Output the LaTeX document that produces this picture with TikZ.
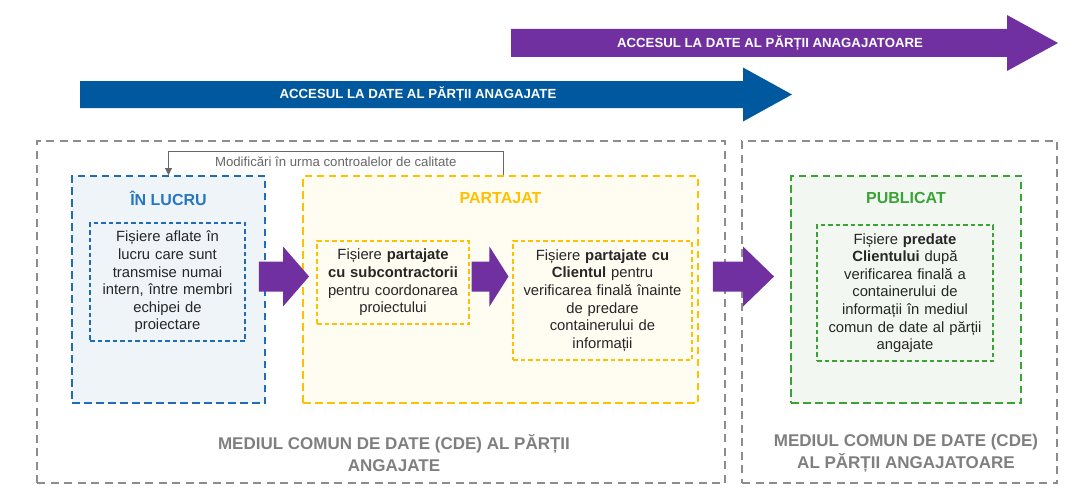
\documentclass[tikz,border=0pt]{standalone}
\usepackage{fontspec}
\setmainfont{Liberation Sans}
\usepackage{tikz}
\usetikzlibrary{positioning,calc,arrows.meta}

\definecolor{ownerblue}{HTML}{00599E}
\definecolor{clientpurple}{HTML}{7030A0}
\definecolor{cdegray}{HTML}{8C8C8C}
\definecolor{labelgray}{HTML}{7F7F7F}
\definecolor{notegray}{HTML}{666666}
\definecolor{wipblue}{HTML}{1F6DB5}
\definecolor{wiptext}{HTML}{2577C2}
\definecolor{wipfill}{HTML}{EFF4F9}
\definecolor{sharedgold}{HTML}{FFC000}
\definecolor{sharedfill}{HTML}{FFFCF2}
\definecolor{pubgreen}{HTML}{3AA335}
\definecolor{pubfill}{HTML}{F2F8F1}
\definecolor{ink}{HTML}{262626}

\newcommand{\bodysize}{\fontsize{14.8}{17.6}\selectfont}
\newcommand{\titlesize}{\fontsize{16}{19}\selectfont\bfseries}
\newcommand{\bandsize}{\fontsize{13.2}{16}\selectfont\bfseries}
\newcommand{\notesize}{\fontsize{13.2}{16}\selectfont}
\newcommand{\cdesize}{\fontsize{17}{21.5}\selectfont\bfseries}

\tikzset{
  fat body/.store in=\fatbody, fat body=15pt,
  fat head/.store in=\fathead, fat head=30pt,
  fat len/.store in=\fatlen, fat len=26pt,
  fatarrow/.style={to path={let \p1=(\tikztostart), \p2=(\tikztotarget) in
      (\x1,\y1+\fatbody) -- (\x2-\fatlen,\y1+\fatbody) -- (\x2-\fatlen,\y1+\fathead)
      -- (\x2,\y1) -- (\x2-\fatlen,\y1-\fathead) -- (\x2-\fatlen,\y1-\fatbody)
      -- (\x1,\y1-\fatbody) -- cycle}},
  cde/.style={draw=cdegray, line width=1.7pt, dash pattern=on 8pt off 5.5pt},
  stage/.style={line width=1.9pt, dash pattern=on 7.5pt off 4.5pt},
  filebox/.style={line width=1.1pt, dash pattern=on 4.5pt off 3pt, inner sep=0pt,
      align=center, font=\bodysize, text=ink},
  stagetitle/.style={font=\titlesize},
  bandlabel/.style={font=\bandsize, text=white},
  cdelabel/.style={font=\cdesize, text=labelgray, align=center},
  feedback/.style={draw=notegray, line width=0.9pt, -{Triangle[width=7pt,length=7pt]}},
}

\begin{document}
\begin{tikzpicture}[x=1pt,y=-1pt]
\useasboundingbox (0,0) rectangle (1076,487);

% access bands
\coordinate (ownertail) at (80,94.5);
\coordinate (ownertip) at (792,94.5);
\coordinate (clienttail) at (511,43);
\coordinate (clienttip) at (1058,43);
\fill[clientpurple, fatarrow, fat body=14pt, fat head=28pt, fat len=51pt] (clienttail) to (clienttip);
\node[bandlabel] (clientband) at (770,43) {ACCESUL LA DATE AL PĂRȚII ANAGAJATOARE};
\fill[ownerblue, fatarrow, fat body=13.5pt, fat head=27pt, fat len=49pt] (ownertail) to (ownertip);
\node[bandlabel] (ownerband) at (418,94.5) {ACCESUL LA DATE AL PĂRȚII ANAGAJATE};

% common data environments
\node[cde, minimum width=688, minimum height=342] (ownercde) at (381,312) {};
\node[cde, minimum width=315, minimum height=342] (clientcde) at (899.5,312) {};

% stages
\node[stage, draw=wipblue, fill=wipfill, minimum width=193, minimum height=227] (wip) at (168.5,289.5) {};
\node[stage, draw=sharedgold, fill=sharedfill, minimum width=395, minimum height=227] (shared) at (500.5,289.5) {};
\node[stage, draw=pubgreen, fill=pubfill, minimum width=230, minimum height=227] (published) at (906,289.5) {};

\node[stagetitle, text=wiptext] (wiptitle) at ([yshift=-23]wip.north) {ÎN LUCRU};
\node[stagetitle, text=sharedgold] (sharedtitle) at ([yshift=-23]shared.north) {PARTAJAT};
\node[stagetitle, text=pubgreen] (pubtitle) at ([yshift=-23]published.north) {PUBLICAT};

% file boxes
\node[filebox, draw=wipblue, minimum width=155, minimum height=118, text width=155] (wipfiles) at (167.5,282)
  {Fișiere aflate în\\lucru care sunt\\transmise numai\\intern, între membri\\echipei de\\proiectare};
\node[filebox, draw=sharedgold, minimum width=152, minimum height=83, text width=152] (subfiles) at (393,282.5)
  {Fișiere \textbf{partajate}\\\textbf{cu subcontractorii}\\pentru coordonarea\\proiectului};
\node[filebox, draw=sharedgold, minimum width=179, minimum height=119, text width=179] (clientfiles) at (602.5,300.5)
  {Fișiere \textbf{partajate cu}\\\textbf{Clientul} pentru\\verificarea finală înainte\\de predare\\containerului de\\informații};
\node[filebox, draw=pubgreen, minimum width=176, minimum height=136, text width=176] (pubfiles) at (905,293)
  {Fișiere \textbf{predate}\\\textbf{Clientului} după\\verificarea finală a\\containerului de\\informații în mediul\\comun de date al părții\\angajate};

% flow arrows
\coordinate (flow) at (0,276.5);
\fill[clientpurple, fatarrow] ($(wip.east |- flow)+(-7,0)$) to ($(shared.west |- flow)+(7,0)$);
\fill[clientpurple, fatarrow, fat len=19pt] ($(subfiles.east |- flow)+(2,0)$) to ($(clientfiles.west |- flow)+(-4,0)$);
\fill[clientpurple, fatarrow, fat len=31pt] ($(shared.east |- flow)+(14,0)$) to ($(published.west |- flow)+(-16,0)$);

% quality loop
\coordinate (loopcorner) at (503,151.5);
\draw[feedback] (shared.north -| loopcorner) -- (loopcorner)
  -| node[pos=0.25, below=1pt, font=\notesize, text=notegray] (fixnote) {Modificări în urma controalelor de calitate} (wip.north);

% labels
\node[cdelabel] (ownerlabel) at (394,453) {MEDIUL COMUN DE DATE (CDE) AL PĂRȚII\\ANGAJATE};
\node[cdelabel] (clientlabel) at (906,453) {MEDIUL COMUN DE DATE (CDE)\\AL PĂRȚII ANGAJATOARE};
\end{tikzpicture}
\end{document}
